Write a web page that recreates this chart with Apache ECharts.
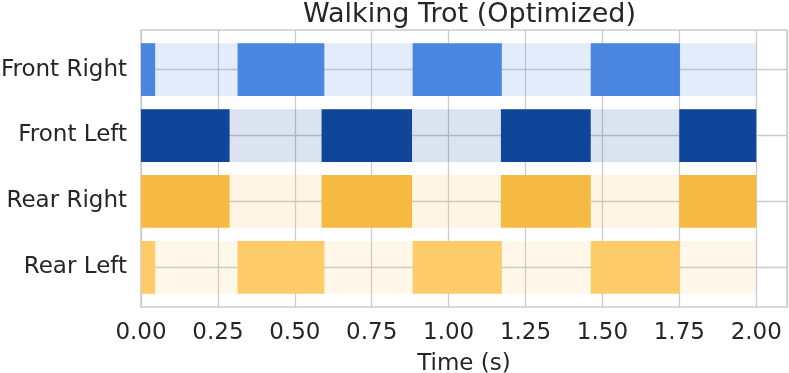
<!DOCTYPE html>
<html>
<head>
<meta charset="utf-8">
<script src="https://cdn.jsdelivr.net/npm/echarts@6/dist/echarts.min.js"></script>
<style>
  html, body { margin: 0; padding: 0; background: #fff; }
  #mChart { width: 789px; height: 373px; }
</style>
</head>
<body>
<div id="mChart"></div>
<script>
  // legs, top to bottom
  var legs = ['Front Right', 'Front Left', 'Rear Right', 'Rear Left'];
  var legColors = ['#4a86e0', '#0f4699', '#f6b942', '#fecb69'];
  var bandColors = ['rgba(74,134,224,0.16)', 'rgba(15,70,153,0.15)', 'rgba(246,185,66,0.14)', 'rgba(254,203,105,0.15)'];

  // stance phases per leg: [start, end] in seconds
  var frontRight = [[0.00, 0.046], [0.314, 0.596], [0.883, 1.173], [1.462, 1.752]];
  var frontLeft  = [[0.00, 0.288], [0.587, 0.881], [1.170, 1.462], [1.750, 2.00]];
  var rearRight  = [[0.00, 0.288], [0.587, 0.881], [1.170, 1.462], [1.750, 2.00]];
  var rearLeft   = [[0.00, 0.046], [0.314, 0.596], [0.883, 1.173], [1.462, 1.752]];
  var cycleEnd = 2.0;

  var xTicks = [0, 0.25, 0.5, 0.75, 1.0, 1.25, 1.5, 1.75, 2.0];

  var phases = [frontRight, frontLeft, rearRight, rearLeft];
  var stanceData = [];
  var bandData = [];
  phases.forEach(function (list, row) {
    bandData.push([0, cycleEnd, row]);
    list.forEach(function (p) { stanceData.push([p[0], p[1], row]); });
  });

  function makeRender(colors) {
    return function (params, api) {
      var row = api.value(2);
      var s = api.coord([api.value(0), row]);
      var e = api.coord([api.value(1), row]);
      var h = api.size([0, 0.8])[1];
      return {
        type: 'rect',
        shape: { x: s[0], y: s[1] - h / 2, width: e[0] - s[0], height: h },
        style: { fill: colors[row] }
      };
    };
  }

  var font = 'DejaVu Sans';
  var myChart = echarts.init(document.getElementById('mChart'));
  myChart.setOption({
    animation: false,
    title: {
      text: 'Walking Trot (Optimized)',
      left: 298,
      top: -4,
      textStyle: { fontFamily: font, fontSize: 27, fontWeight: 'normal', color: '#262626' }
    },
    grid: {
      left: 141, right: 2, top: 30, bottom: 66,
      outerBoundsMode: 'none',
      containLabel: false,
      show: true, borderColor: '#cccccc', borderWidth: 1.5
    },
    xAxis: {
      type: 'value',
      min: 0, max: 2.1, interval: 0.25,
      name: 'Time (s)',
      nameLocation: 'middle',
      nameGap: 46,
      nameTextStyle: { fontFamily: font, fontSize: 23, color: '#262626' },
      axisLine: { show: false },
      axisTick: { show: false },
      axisLabel: {
        customValues: xTicks,
        formatter: function (v) { return v.toFixed(2); },
        fontFamily: font, fontSize: 23, color: '#262626', margin: 15
      },
      splitLine: { show: true, lineStyle: { color: '#cccccc', width: 1.3 } }
    },
    yAxis: {
      type: 'value',
      min: -0.6, max: 3.6, inverse: true,
      axisLine: { show: false },
      axisTick: { show: false, customValues: [0, 1, 2, 3] },
      axisLabel: {
        customValues: [0, 1, 2, 3],
        formatter: function (v) { return legs[v]; },
        fontFamily: font, fontSize: 23, color: '#262626', margin: 14
      },
      splitLine: { show: true, lineStyle: { color: '#cccccc', width: 1.3 } }
    },
    series: [
      {
        type: 'custom',
        renderItem: makeRender(bandColors),
        encode: { x: [0, 1], y: 2 },
        data: bandData,
        z: 2
      },
      {
        type: 'custom',
        renderItem: makeRender(legColors),
        encode: { x: [0, 1], y: 2 },
        data: stanceData,
        z: 3
      }
    ]
  });
</script>
</body>
</html>
